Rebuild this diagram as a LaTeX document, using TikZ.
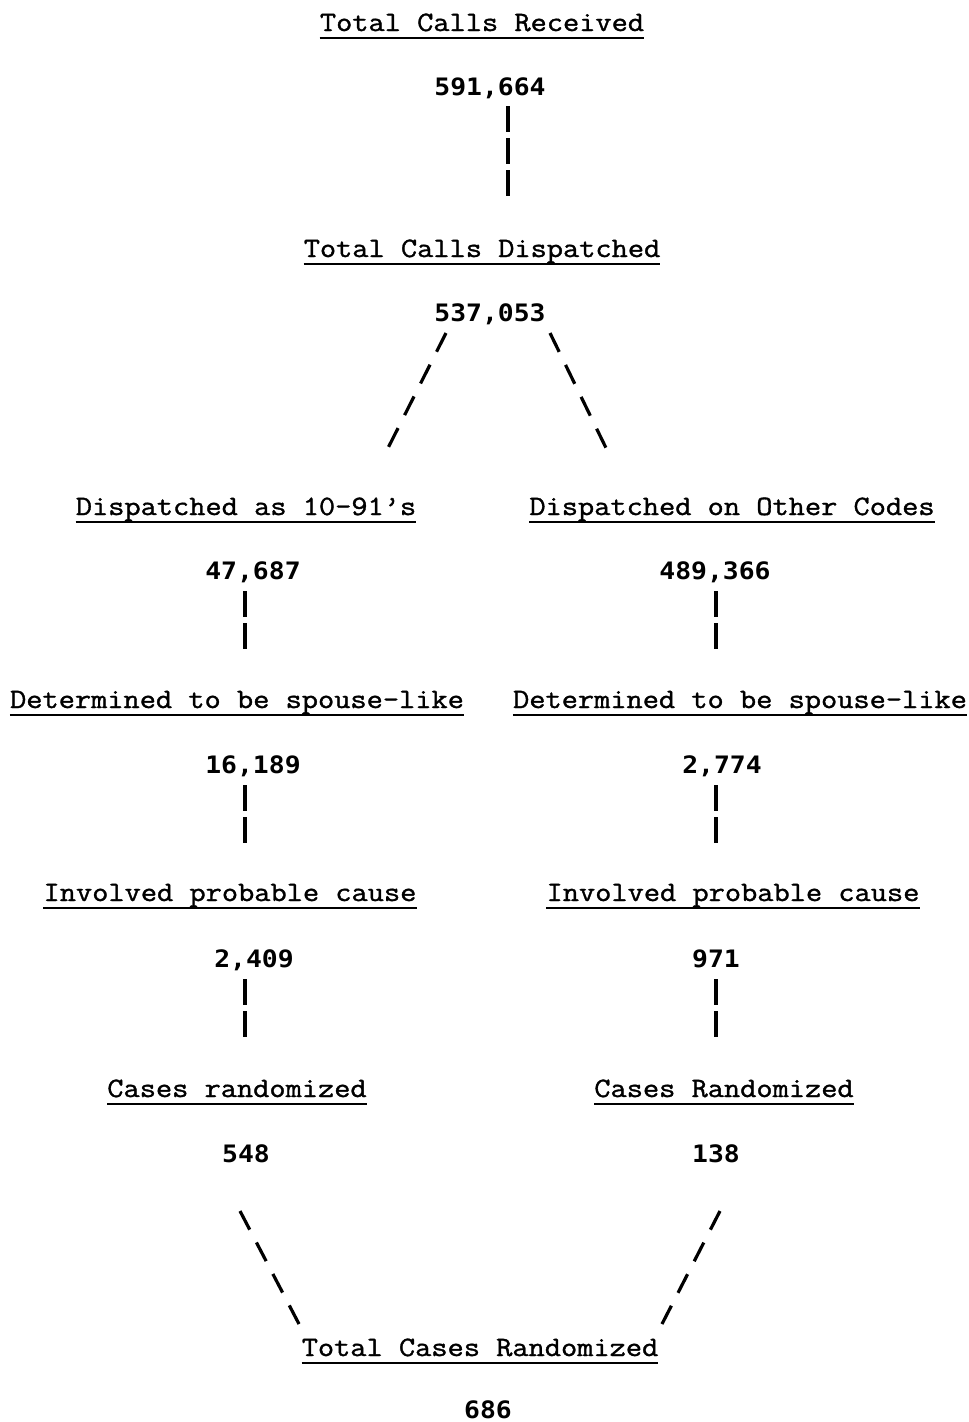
\documentclass[tikz,border=0pt]{standalone}
\usepackage{fontspec}
\usepackage{graphicx}
\newfontfamily\numfam{DejaVu Sans Mono}
\newfontfamily\hdfam{Latin Modern Mono}[FakeBold=1.2]
\newcommand{\hdtext}[1]{\scalebox{1.124}[1]{\fontsize{28}{28}\selectfont\hdfam #1}}
\newcommand{\numtext}[1]{\scalebox{1.1}[1]{\fontsize{24}{24}\selectfont\numfam\bfseries #1}}
\tikzset{
  hd/.style={anchor=base, inner sep=0pt},
  num/.style={anchor=base, inner sep=0pt},
  ul/.style={line width=2.4pt},
  vlink/.style={line width=3.2pt, dash pattern=on 26pt off 6pt},
  dlink/.style={line width=3.2pt, dash pattern=on 21pt off 14.5pt},
}
\begin{document}
\begin{tikzpicture}[x=1pt,y=-1pt]
\useasboundingbox (0,0) rectangle (969,1422);
% headings
\node[hd] (h1) at (482,31) {\hdtext{Total Calls Received}};
\node[hd] (h2) at (482,257) {\hdtext{Total Calls Dispatched}};
\node[hd] (h3l) at (246,515) {\hdtext{Dispatched as 10-91’s}};
\node[hd] (h3r) at (732,515) {\hdtext{Dispatched on Other Codes}};
\node[hd] (h4l) at (237,708) {\hdtext{Determined to be spouse-like}};
\node[hd] (h4r) at (740,708) {\hdtext{Determined to be spouse-like}};
\node[hd] (h5l) at (230,901) {\hdtext{Involved probable cause}};
\node[hd] (h5r) at (733,901) {\hdtext{Involved probable cause}};
\node[hd] (h6l) at (237,1097) {\hdtext{Cases randomized}};
\node[hd] (h6r) at (724,1097) {\hdtext{Cases Randomized}};
\node[hd] (h7) at (480,1356) {\hdtext{Total Cases Randomized}};
\foreach \n in {h1,h2,h3l,h3r,h4l,h4r,h5l,h5r,h6l,h6r,h7}
  \draw[ul] ([yshift=-7pt]\n.base west) -- ([yshift=-7pt]\n.base east);
% numbers
\node[num] (n1) at (490,95) {\numtext{591,664}};
\node[num] (n2) at (490,321) {\numtext{537,053}};
\node[num] (n3l) at (253,579) {\numtext{47,687}};
\node[num] (n3r) at (715,579) {\numtext{489,366}};
\node[num] (n4l) at (253,773) {\numtext{16,189}};
\node[num] (n4r) at (722,773) {\numtext{2,774}};
\node[num] (n5l) at (254,967) {\numtext{2,409}};
\node[num] (n5r) at (716,967) {\numtext{971}};
\node[num] (n6l) at (246,1162) {\numtext{548}};
\node[num] (n6r) at (716,1162) {\numtext{138}};
\node[num] (n7) at (488,1418) {\numtext{686}};
% connector end points
\coordinate (c1a) at (508,106); \coordinate (c1b) at (508,197);
\coordinate (c2a) at (446,333); \coordinate (c2b) at (387,450);
\coordinate (c3a) at (550,333); \coordinate (c3b) at (607,450);
\coordinate (c4a) at (245,591); \coordinate (c4b) at (245,649);
\coordinate (c5a) at (716,591); \coordinate (c5b) at (716,649);
\coordinate (c6a) at (245,785); \coordinate (c6b) at (245,843);
\coordinate (c7a) at (716,785); \coordinate (c7b) at (716,843);
\coordinate (c8a) at (245,979); \coordinate (c8b) at (245,1037);
\coordinate (c9a) at (716,979); \coordinate (c9b) at (716,1037);
\coordinate (c10a) at (240,1211); \coordinate (c10b) at (299,1324);
\coordinate (c11a) at (720,1211); \coordinate (c11b) at (662,1324);
% connectors
\draw[vlink] (c1a) -- (c1b);
\draw[dlink] (c2a) -- (c2b);
\draw[dlink] (c3a) -- (c3b);
\draw[vlink] (c4a) -- (c4b);
\draw[vlink] (c5a) -- (c5b);
\draw[vlink] (c6a) -- (c6b);
\draw[vlink] (c7a) -- (c7b);
\draw[vlink] (c8a) -- (c8b);
\draw[vlink] (c9a) -- (c9b);
\draw[dlink] (c10a) -- (c10b);
\draw[dlink] (c11a) -- (c11b);
\end{tikzpicture}
\end{document}
